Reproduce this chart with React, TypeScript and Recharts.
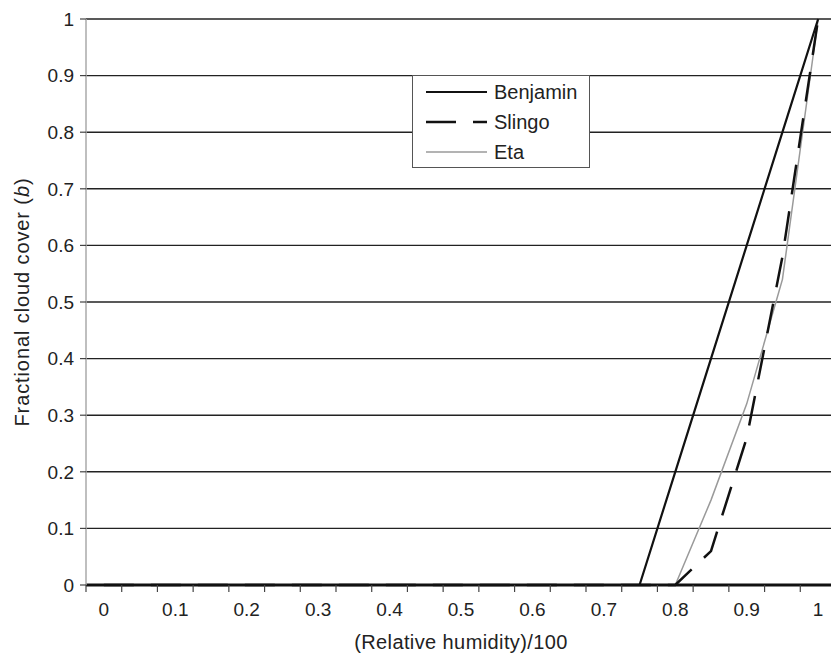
import { LineChart, Line, XAxis, YAxis, CartesianGrid, Legend } from "recharts";

// categories of the x axis: relative humidity / 100
const humidity = [
  0, 0.05, 0.1, 0.15, 0.2, 0.25, 0.3, 0.35, 0.4, 0.45, 0.5, 0.55, 0.6, 0.65,
  0.7, 0.75, 0.8, 0.85, 0.9, 0.95, 1,
];

// fractional cloud cover per scheme
const benjamin = [
  0, 0, 0, 0, 0, 0, 0, 0, 0, 0, 0, 0, 0, 0, 0, 0, 0.2, 0.4, 0.6, 0.8, 1,
];
const slingo = [
  0, 0, 0, 0, 0, 0, 0, 0, 0, 0, 0, 0, 0, 0, 0, 0, 0, 0.06, 0.26, 0.58, 1,
];
const eta = [
  0, 0, 0, 0, 0, 0, 0, 0, 0, 0, 0, 0, 0, 0, 0, 0, 0, 0.15, 0.32, 0.54, 1,
];

const xTickLabels = [0, 0.1, 0.2, 0.3, 0.4, 0.5, 0.6, 0.7, 0.8, 0.9, 1];
const yTicks = [0, 0.1, 0.2, 0.3, 0.4, 0.5, 0.6, 0.7, 0.8, 0.9, 1];

const FONT = '"Liberation Sans", Arial, Helvetica, sans-serif';

const SERIES = [
  { key: "benjamin", name: "Benjamin", color: "#111", width: 2.2, dash: undefined },
  { key: "slingo", name: "Slingo", color: "#111", width: 2.5, dash: "30 17" },
  { key: "eta", name: "Eta", color: "#9a9a9a", width: 1.5, dash: undefined },
];

const data = humidity.map((rh, i) => ({
  rh,
  benjamin: benjamin[i],
  slingo: slingo[i],
  eta: eta[i],
}));

// excel-style category axis: tick marks between categories, labels on every other one
const half = (humidity[1] - humidity[0]) / 2;
const xTickMarks = [humidity[0] - half, ...humidity.map((v) => v + half)];
const xAllTicks = [...xTickMarks, ...xTickLabels].sort((a, b) => a - b);
const isLabel = (v: number) => xTickLabels.some((l) => Math.abs(l - v) < 1e-6);

const XTick = (props: any) => {
  const { x, y, payload } = props;
  if (isLabel(payload.value)) {
    return (
      <text
        x={x}
        y={y + 18}
        dy="0.71em"
        textAnchor="middle"
        fontSize={19}
        fontFamily={FONT}
        fill="#222"
      >
        {String(payload.value)}
      </text>
    );
  }
  return <line x1={x} x2={x} y1={y} y2={y + 7} stroke="#444" strokeWidth={1.2} />;
};

const XTitle = (props: any) => {
  const vb = props.viewBox || { x: 86, y: 585, width: 750 };
  return (
    <text
      x={vb.x + vb.width / 2}
      y={vb.y + 64}
      textAnchor="middle"
      fontSize={20}
      fontFamily={FONT}
      fill="#222"
      letterSpacing={0.4}
    >
      (Relative humidity)/100
    </text>
  );
};

const YTitle = (props: any) => {
  const vb = props.viewBox || { x: 0, y: 19, height: 566 };
  const cx = 22;
  const cy = vb.y + vb.height / 2;
  return (
    <text
      x={cx}
      y={cy}
      transform={`rotate(-90, ${cx}, ${cy})`}
      textAnchor="middle"
      dominantBaseline="central"
      fontSize={20}
      fontFamily={FONT}
      fill="#222"
      letterSpacing={0.9}
    >
      Fractional cloud cover (<tspan fontStyle="italic">b</tspan>)
    </text>
  );
};

const LegendBox = () => (
  <div
    style={{
      width: 178,
      height: 93,
      border: "1px solid #555",
      background: "#fff",
      boxSizing: "border-box",
      paddingTop: 1,
      fontFamily: FONT,
      color: "#222",
    }}
  >
    {SERIES.map((s) => (
      <div key={s.key} style={{ display: "flex", alignItems: "center", height: 30 }}>
        <svg width={74} height={10} style={{ display: "block" }}>
          <line
            x1={13}
            x2={74}
            y1={5}
            y2={5}
            stroke={s.color}
            strokeWidth={s.width}
            strokeDasharray={s.dash}
          />
        </svg>
        <span style={{ marginLeft: 7, fontSize: 20, lineHeight: "30px" }}>{s.name}</span>
      </div>
    ))}
  </div>
);

export default function App() {
  // draw the grey line first so the black ones sit on top of it along the zero line
  const drawOrder = [...SERIES].reverse();
  return (
    <div
      style={{
        position: "fixed",
        left: 0,
        top: 0,
        width: 831,
        height: 654,
        overflow: "hidden",
        background: "#fff",
      }}
    >
      <LineChart
        width={850}
        height={654}
        data={data}
        margin={{ top: 19, right: 14, bottom: 0, left: 0 }}
      >
        <CartesianGrid horizontal vertical={false} stroke="#222" strokeWidth={1.4} />
        <XAxis
          dataKey="rh"
          type="number"
          domain={[humidity[0] - half, humidity[humidity.length - 1] + half]}
          ticks={xAllTicks}
          interval={0}
          tick={<XTick />}
          tickLine={false}
          tickSize={0}
          tickMargin={0}
          axisLine={{ stroke: "#111", strokeWidth: 2.8 }}
          height={69}
          label={<XTitle />}
        />
        <YAxis
          type="number"
          domain={[0, 1]}
          ticks={yTicks}
          interval={0}
          width={86}
          tickSize={6}
          tickMargin={6}
          tickLine={{ stroke: "#444", strokeWidth: 1.2 }}
          axisLine={{ stroke: "#aaa", strokeWidth: 1.5 }}
          tick={{ fontSize: 19, fontFamily: FONT, fill: "#222" }}
          tickFormatter={(v: number) => String(v)}
          label={<YTitle />}
        />
        <Legend
          layout="vertical"
          align="center"
          verticalAlign="middle"
          content={<LegendBox />}
          wrapperStyle={{ left: 412, top: 75, width: 178, height: 93 }}
        />
        {drawOrder.map((s) => (
          <Line
            key={s.key}
            type="linear"
            dataKey={s.key}
            name={s.name}
            stroke={s.color}
            strokeWidth={s.width}
            strokeDasharray={s.dash}
            dot={false}
            activeDot={false}
            isAnimationActive={false}
          />
        ))}
      </LineChart>
    </div>
  );
}
